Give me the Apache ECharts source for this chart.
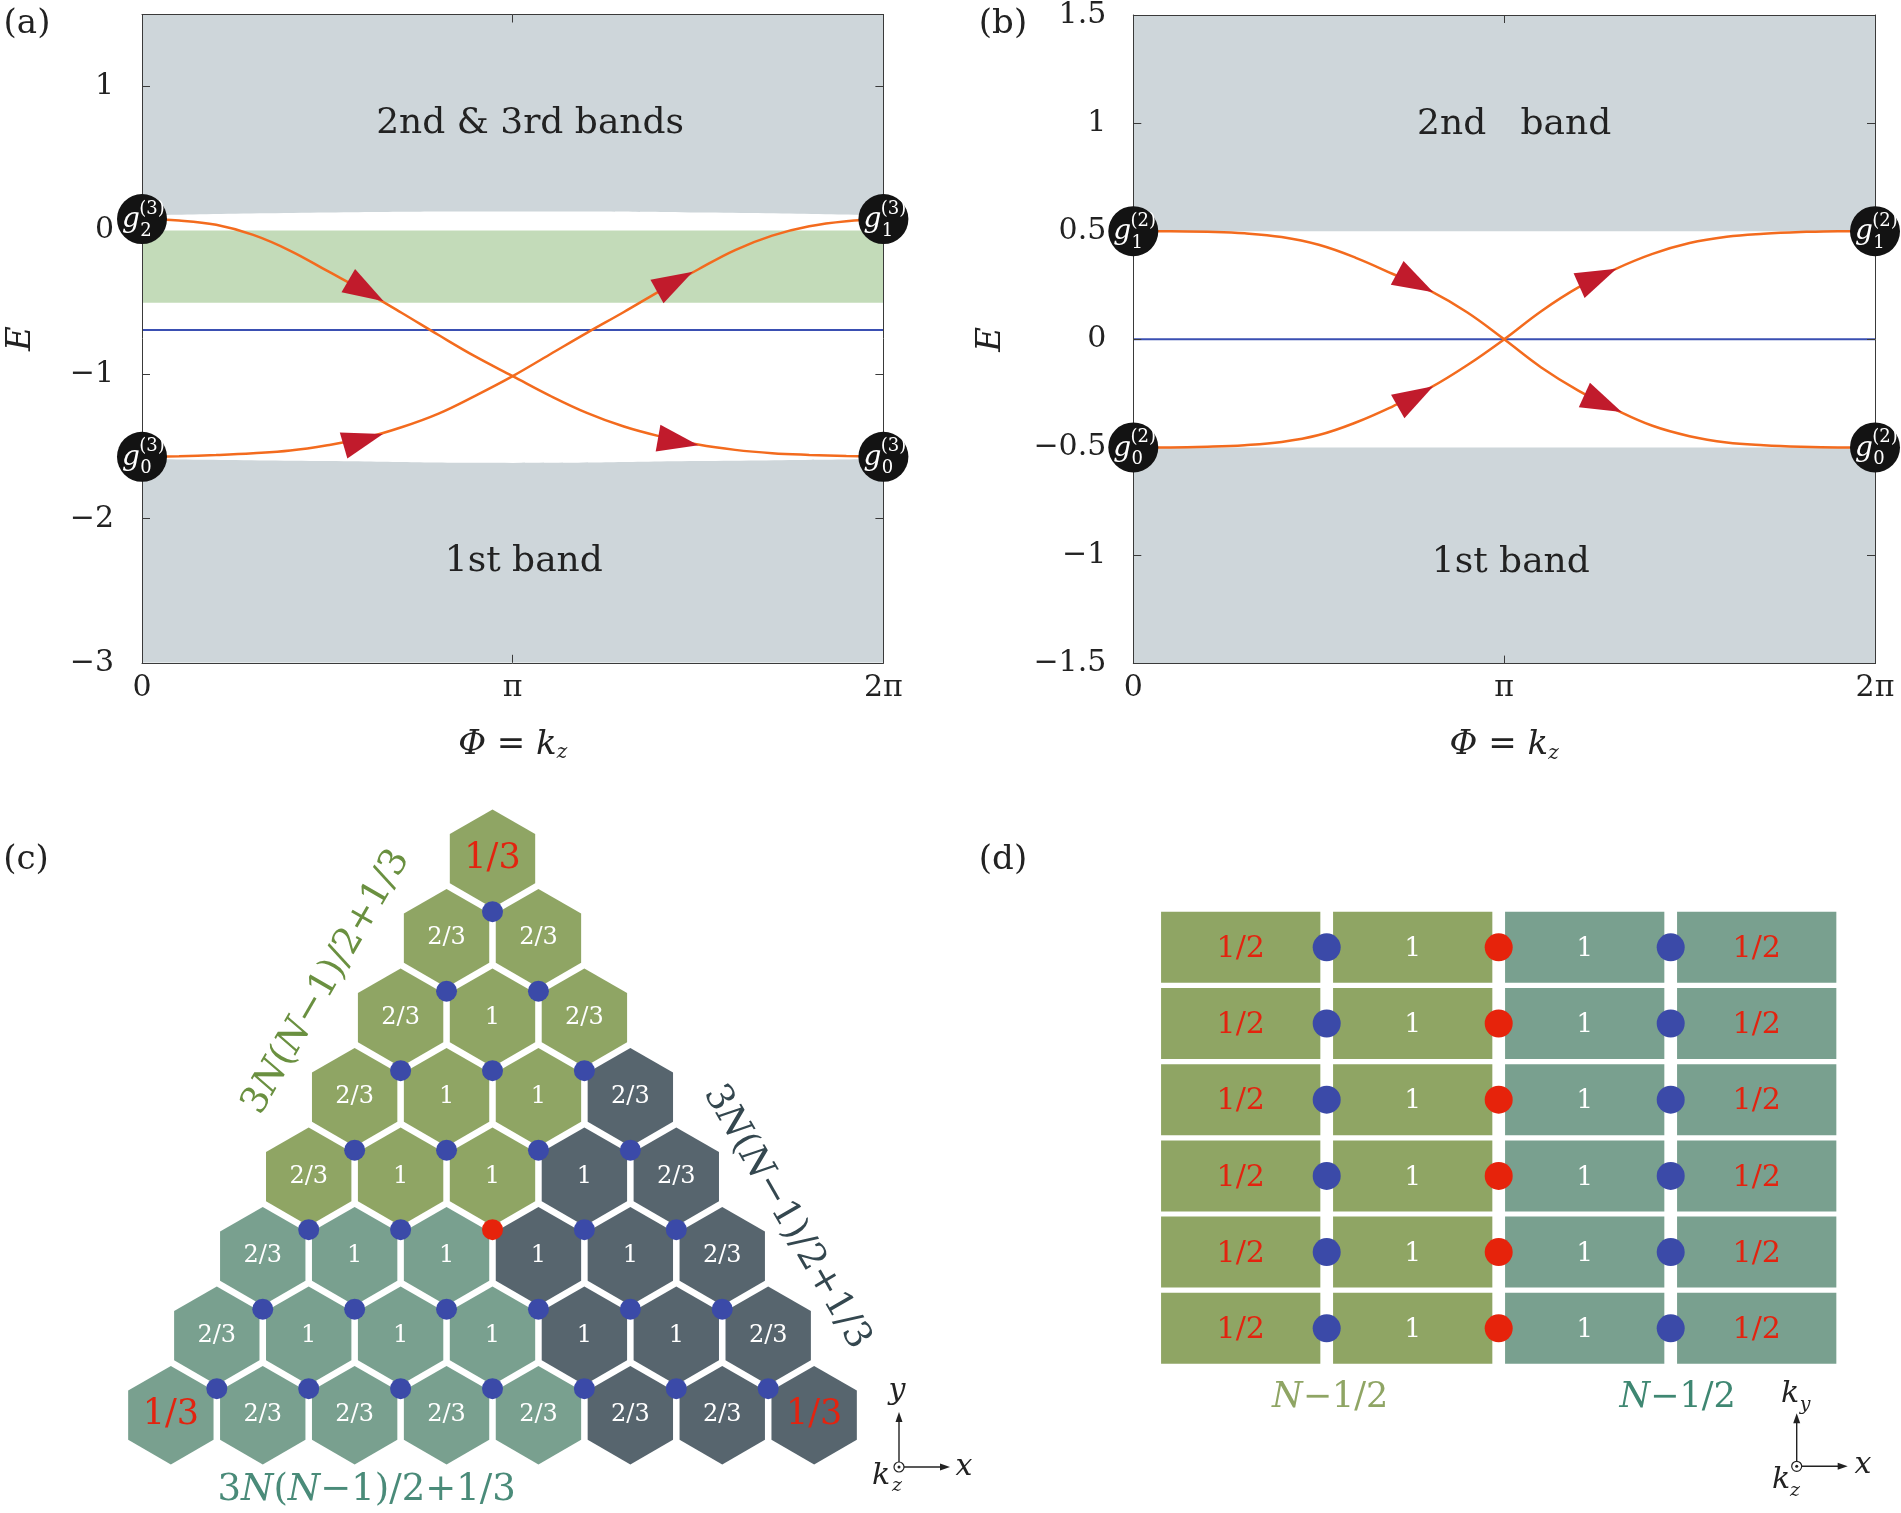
<!DOCTYPE html>
<html>
<head>
<meta charset="utf-8">
<script src="https://cdn.jsdelivr.net/npm/echarts@6/dist/echarts.min.js"></script>
<style>html,body{margin:0;padding:0;background:#fff}#main{width:1901px;height:1513px}</style>
</head>
<body>
<div id="main"></div>
<script>
// ================= DATA =================
// common phase grid (in units of pi)
const PHI = [0,0.1,0.2,0.3,0.4,0.5,0.6,0.7,0.8,0.9,1.0,1.1,1.2,1.3,1.4,1.5,1.6,1.7,1.8,1.9,2.0];
const X_TICKS = [0, 1, 2];
const X_LABELS = ['0', 'π', '2π'];

// ---- panel (a) ----
const A_DOWN = [0.08,0.07,0.04,-0.03,-0.14,-0.28,-0.42,-0.57,-0.725,-0.875,-1.01,-1.145,-1.265,-1.36,-1.43,-1.485,-1.522,-1.545,-1.557,-1.565,-1.57];
const A_UP   = [-1.57,-1.566,-1.558,-1.546,-1.527,-1.49,-1.44,-1.365,-1.27,-1.145,-1.01,-0.86,-0.71,-0.565,-0.415,-0.27,-0.135,-0.035,0.03,0.065,0.08];
const A_EDGE_PHI = [0, 0.5, 1, 1.5, 2];
const A_UPPER_EDGE = [0.105, 0.125, 0.132, 0.125, 0.105];
const A_LOWER_EDGE = [-1.585, -1.600, -1.613, -1.600, -1.585];
const A_GREEN = [-0.5, 0];
const A_FLAT = -0.69;
const A_Y_TICKS = [-3, -2, -1, 0, 1];
const A_Y_LABELS = ['−3', '−2', '−1', '0', '1'];
const A_NODE_PHI = [0, 2, 0, 2];
const A_NODE_E = [0.08, 0.08, -1.57, -1.57];
const A_NODE_SUP = ['(3)', '(3)', '(3)', '(3)'];
const A_NODE_SUB = ['2', '1', '0', '0'];
const A_ARROW_PHI = [0.652, 1.501, 0.650, 1.486];
const A_ARROW_E = [-0.49, -1.49, -1.412, -0.285];
const A_ARROW_CURVE = [0, 0, 1, 1];
const A_TEXT = ['2nd & 3rd bands', '1st band'];
const A_TEXT_PHI = [1.047, 1.03];
const A_TEXT_E = [0.74, -2.30];

// ---- panel (b) ----
const B_DOWN = [0.5,0.5,0.497,0.49,0.473,0.437,0.377,0.302,0.225,0.125,0,-0.13,-0.237,-0.325,-0.4,-0.448,-0.477,-0.49,-0.497,-0.5,-0.5];
const B_UP   = [-0.5,-0.5,-0.497,-0.49,-0.475,-0.443,-0.385,-0.31,-0.225,-0.12,0,0.13,0.24,0.325,0.395,0.445,0.474,0.488,0.496,0.5,0.5];
const B_UPPER_BAND = [0.5, 1.5];
const B_LOWER_BAND = [-1.5, -0.5];
const B_FLAT = 0;
const B_Y_TICKS = [-1.5, -1, -0.5, 0, 0.5, 1, 1.5];
const B_Y_LABELS = ['−1.5', '−1', '−0.5', '0', '0.5', '1', '1.5'];
const B_NODE_PHI = [0, 2, 0, 2];
const B_NODE_E = [0.5, 0.5, -0.5, -0.5];
const B_NODE_SUP = ['(2)', '(2)', '(2)', '(2)'];
const B_NODE_SUB = ['1', '1', '0', '0'];
const B_ARROW_PHI = [0.809, 1.317, 0.809, 1.303];
const B_ARROW_E = [0.218, -0.336, -0.217, 0.326];
const B_ARROW_CURVE = [2, 2, 3, 3];
const B_TEXT = ['2nd   band', '1st band'];
const B_TEXT_PHI = [1.027, 1.018];
const B_TEXT_E = [0.993, -1.034];

// ---- panel (c) : triangular hexagon cluster, row r has r+1 cells ----
const HEX_REGION = ['G', 'GG', 'GGG', 'GGGD', 'GGGDD', 'TTTDDD', 'TTTTDDD', 'TTTTTDDD'];
const HEX_LABEL = [
  ['1/3'],
  ['2/3', '2/3'],
  ['2/3', '1', '2/3'],
  ['2/3', '1', '1', '2/3'],
  ['2/3', '1', '1', '1', '2/3'],
  ['2/3', '1', '1', '1', '1', '2/3'],
  ['2/3', '1', '1', '1', '1', '1', '2/3'],
  ['1/3', '2/3', '2/3', '2/3', '2/3', '2/3', '2/3', '1/3']
];
// dots sit below each cell of rows 0..6 ('b' blue, 'r' red)
const HEX_DOTS = ['b', 'bb', 'bbb', 'bbbb', 'bbrbb', 'bbbbbb', 'bbbbbbb'];
const C_LABEL = '3N(N−1)/2+1/3';

// ---- panel (d) : 6 x 4 strip lattice ----
const RECT_ROWS = 6;
const RECT_REGION = ['G', 'G', 'T', 'T'];
const RECT_LABEL = ['1/2', '1', '1', '1/2'];
const RECT_DOTS = ['b', 'r', 'b'];
const D_LABEL = 'N−1/2';

// ================= STYLE =================
const FONT = '"DejaVu Serif"';
const GRAY = '#CED6DA', GREEN_BAND = '#C3DBB9', BLUE_LINE = '#3A4FB2', ORANGE = '#F36B1E', ARROW_RED = '#C11B2C';
const FILL = { G: '#8FA564', T: '#79A08F', D: '#57656E' };
const DOT = { b: '#3B4AA8', r: '#E6230B' };
const RED_TXT = '#E3230F';
const INK = '#222';
const CLEAR = 'rgba(0,0,0,0)';

function font(size, italic) { return (italic ? 'italic ' : '') + size + 'px ' + FONT; }
function tickFmt(ticks, labels) {
  return function (v) {
    const k = ticks.findIndex(t => Math.abs(t - v) < 1e-6);
    return k < 0 ? '' : labels[k];
  };
}
function interp(xs, ys, x) {
  for (let i = 0; i < xs.length - 1; i++) {
    if (x >= xs[i] && x <= xs[i + 1]) {
      const t = (x - xs[i]) / (xs[i + 1] - xs[i]);
      return ys[i] + t * (ys[i + 1] - ys[i]);
    }
  }
  return x < xs[0] ? ys[0] : ys[ys.length - 1];
}
const CURVES = [A_DOWN, A_UP, B_DOWN, B_UP];

function txtStyle(x, y, text, fnt, fill, align, valign) {
  return { x: x, y: y, text: text, font: fnt, fill: fill,
    align: align || 'center', verticalAlign: valign || 'middle',
    textAlign: align || 'center', textVerticalAlign: valign || 'middle' };
}

// ---------- axes ----------
const axisLineStyle = { color: '#3a3a3a', width: 1 };
function frameAxis(extra) {
  return Object.assign({
    type: 'value',
    axisLine: { show: true, onZero: false, lineStyle: axisLineStyle },
    axisTick: { show: true, inside: true, length: 8, lineStyle: axisLineStyle },
    splitLine: { show: false },
    axisLabel: { show: false },
    z: 4
  }, extra);
}
const labelStyle = { fontFamily: 'DejaVu Serif', fontSize: 30, color: INK };
const xName = '{i|Φ}{n| = }{i|k}{s|z}';
const xNameStyle = {
  rich: {
    i: { fontFamily: 'DejaVu Serif', fontStyle: 'italic', fontSize: 34, color: INK },
    n: { fontFamily: 'DejaVu Serif', fontSize: 34, color: INK },
    s: { fontFamily: 'DejaVu Serif', fontStyle: 'italic', fontSize: 20, color: INK, padding: [16, 0, 0, 0] }
  }
};
const yNameStyle = { fontFamily: 'DejaVu Serif', fontStyle: 'italic', fontSize: 34, color: INK };

const xAxes = [
  frameAxis({ gridIndex: 0, position: 'bottom', min: 0, max: 2, interval: 1,
    axisLabel: Object.assign({ show: true, margin: 10, formatter: tickFmt(X_TICKS, X_LABELS) }, labelStyle),
    name: xName, nameLocation: 'middle', nameGap: 64, nameTextStyle: xNameStyle }),
  frameAxis({ gridIndex: 0, position: 'top', min: 0, max: 2, interval: 1 }),
  frameAxis({ gridIndex: 1, position: 'bottom', min: 0, max: 2, interval: 1,
    axisLabel: Object.assign({ show: true, margin: 10, formatter: tickFmt(X_TICKS, X_LABELS) }, labelStyle),
    name: xName, nameLocation: 'middle', nameGap: 64, nameTextStyle: xNameStyle }),
  frameAxis({ gridIndex: 1, position: 'top', min: 0, max: 2, interval: 1 }),
  { type: 'value', gridIndex: 2, min: -4, max: 4, show: false },
  { type: 'value', gridIndex: 3, min: -0.5, max: 3.5, show: false }
];
const yAxes = [
  frameAxis({ gridIndex: 0, position: 'left', min: -3, max: 1.5, interval: 1,
    axisLabel: Object.assign({ show: true, margin: 28, formatter: tickFmt(A_Y_TICKS, A_Y_LABELS) }, labelStyle),
    name: 'E', nameLocation: 'middle', nameGap: 104, nameRotate: 90, nameTextStyle: yNameStyle }),
  frameAxis({ gridIndex: 0, position: 'right', min: -3, max: 1.5, interval: 1 }),
  frameAxis({ gridIndex: 1, position: 'left', min: -1.5, max: 1.5, interval: 0.5,
    axisLabel: Object.assign({ show: true, margin: 27, formatter: tickFmt(B_Y_TICKS, B_Y_LABELS) }, labelStyle),
    name: 'E', nameLocation: 'middle', nameGap: 125, nameRotate: 90, nameTextStyle: yNameStyle }),
  frameAxis({ gridIndex: 1, position: 'right', min: -1.5, max: 1.5, interval: 0.5 }),
  { type: 'value', gridIndex: 2, min: -1, max: 8, inverse: true, show: false },
  { type: 'value', gridIndex: 3, min: -0.5, max: 5.5, inverse: true, show: false }
];

// ---------- render helpers ----------
function nodeRender(sups, subs) {
  return function (params, api) {
    const p = api.coord([api.value(0), api.value(1)]);
    const i = params.dataIndex;
    return {
      type: 'group',
      children: [
        { type: 'circle', shape: { cx: p[0], cy: p[1], r: 25 }, style: { fill: '#131313' } },
        { type: 'text', style: txtStyle(p[0] - 11, p[1] + 1, 'g', font(28, true), '#fff') },
        { type: 'text', style: txtStyle(p[0] + 10, p[1] - 10, sups[i], font(18), '#fff') },
        { type: 'text', style: txtStyle(p[0] + 4, p[1] + 12, subs[i], font(18), '#fff') }
      ]
    };
  };
}
function arrowRender(params, api) {
  const x = api.value(0), y = api.value(1), cid = api.value(2);
  const curve = CURVES[cid];
  const tip = api.coord([x, y]);
  const p1 = api.coord([x - 0.03, interp(PHI, curve, x - 0.03)]);
  const p2 = api.coord([x + 0.03, interp(PHI, curve, x + 0.03)]);
  let dx = p2[0] - p1[0], dy = p2[1] - p1[1];
  const n = Math.hypot(dx, dy); dx /= n; dy /= n;
  const L = 41, W = 27;
  const bx = tip[0] - L * dx, by = tip[1] - L * dy;
  return {
    type: 'polygon',
    shape: { points: [tip, [bx - W / 2 * dy, by + W / 2 * dx], [bx + W / 2 * dy, by - W / 2 * dx]] },
    style: { fill: ARROW_RED }
  };
}
const HEX_SCALE = 0.929;
function hexRender(params, api) {
  const c = api.coord([api.value(0), api.value(1)]);
  const unit = api.size([1, 0])[0];
  const R = unit / Math.sqrt(3) * HEX_SCALE;
  const pts = [];
  for (let k = 0; k < 6; k++) {
    const a = (60 * k - 90) * Math.PI / 180;
    pts.push([c[0] + R * Math.cos(a), c[1] + R * Math.sin(a)]);
  }
  const r = api.value(1), i = api.value(2);
  const lab = HEX_LABEL[r][i];
  const big = lab === '1/3';
  return {
    type: 'group',
    children: [
      { type: 'polygon', shape: { points: pts }, style: { fill: FILL[HEX_REGION[r][i]] } },
      { type: 'text', style: txtStyle(c[0], c[1], lab, font(big ? 35 : 24), big ? RED_TXT : '#fff') }
    ]
  };
}
const RECT_W = 0.926, RECT_H = 0.932;
function rectRender(params, api) {
  const col = api.value(0), row = api.value(1);
  const c = api.coord([col, row]);
  const s = api.size([RECT_W, RECT_H]);
  const lab = RECT_LABEL[col];
  const half = lab === '1/2';
  return {
    type: 'group',
    children: [
      { type: 'rect', shape: { x: c[0] - s[0] / 2, y: c[1] - s[1] / 2, width: s[0], height: s[1] }, style: { fill: FILL[RECT_REGION[col]] } },
      { type: 'text', style: txtStyle(c[0], c[1] + 2, lab, font(half ? 30 : 26), half ? RED_TXT : '#fff') }
    ]
  };
}

// ---------- build data ----------
const hexData = [];
HEX_LABEL.forEach((row, r) => row.forEach((lab, i) => hexData.push([i - r / 2, r, i])));
const hexDotData = [];
HEX_DOTS.forEach((row, r) => row.split('').forEach((k, i) =>
  hexDotData.push({ value: [i - r / 2, r + 2 / 3], itemStyle: { color: DOT[k], opacity: 1 } })));
const rectData = [];
for (let row = 0; row < RECT_ROWS; row++) for (let col = 0; col < RECT_REGION.length; col++) rectData.push([col, row]);
const rectDotData = [];
for (let row = 0; row < RECT_ROWS; row++) RECT_DOTS.forEach((k, j) =>
  rectDotData.push({ value: [j + 0.5, row], itemStyle: { color: DOT[k], opacity: 1 } }));

function zip2(xs, ys) { return xs.map((x, i) => [x, ys[i]]); }
function mathRich(color, size) {
  return {
    n: { fontFamily: 'DejaVu Serif', fontSize: size, color: color },
    i: { fontFamily: 'DejaVu Serif', fontStyle: 'italic', fontSize: size, color: color }
  };
}
function mathText(s) {
  // italicise N
  return s.split('N').map(p => p ? '{n|' + p + '}' : '').join('{i|N}');
}
function textLabel(value, text, opts) {
  return {
    value: value, name: text,
    label: Object.assign({ show: true, position: 'inside', formatter: text, opacity: 1 }, opts)
  };
}
const hiddenSym = { symbolSize: 1, itemStyle: { color: CLEAR, opacity: 1 }, clip: false };

const series = [
  // ----- (a) -----
  { type: 'line', xAxisIndex: 0, yAxisIndex: 0, data: zip2(A_EDGE_PHI, A_UPPER_EDGE), smooth: true, symbol: 'none',
    lineStyle: { width: 0, opacity: 0 }, areaStyle: { color: GRAY, opacity: 1, origin: 'end' }, z: 1, silent: true },
  { type: 'line', xAxisIndex: 0, yAxisIndex: 0, data: zip2(A_EDGE_PHI, A_LOWER_EDGE), smooth: true, symbol: 'none',
    lineStyle: { width: 0, opacity: 0 }, areaStyle: { color: GRAY, opacity: 1, origin: 'start' }, z: 1, silent: true },
  { type: 'line', xAxisIndex: 0, yAxisIndex: 0, data: [[0, A_FLAT], [2, A_FLAT]], symbol: 'none',
    lineStyle: { color: BLUE_LINE, width: 2 }, z: 2, silent: true,
    markArea: { silent: true, itemStyle: { color: GREEN_BAND, opacity: 1 }, data: [[{ yAxis: A_GREEN[0] }, { yAxis: A_GREEN[1] }]] } },
  { type: 'line', xAxisIndex: 0, yAxisIndex: 0, data: zip2(PHI, A_DOWN), smooth: 0.4, symbol: 'none',
    lineStyle: { color: ORANGE, width: 2.5 }, z: 3, silent: true },
  { type: 'line', xAxisIndex: 0, yAxisIndex: 0, data: zip2(PHI, A_UP), smooth: 0.4, symbol: 'none',
    lineStyle: { color: ORANGE, width: 2.5 }, z: 3, silent: true },
  { type: 'custom', xAxisIndex: 0, yAxisIndex: 0, clip: false, z: 5, silent: true, encode: { x: 0, y: 1 },
    data: A_ARROW_PHI.map((p, i) => [p, A_ARROW_E[i], A_ARROW_CURVE[i]]), renderItem: arrowRender },
  { type: 'custom', xAxisIndex: 0, yAxisIndex: 0, clip: false, z: 10, silent: true, encode: { x: 0, y: 1 },
    data: zip2(A_NODE_PHI, A_NODE_E), renderItem: nodeRender(A_NODE_SUP, A_NODE_SUB) },
  Object.assign({ type: 'scatter', xAxisIndex: 0, yAxisIndex: 0, z: 6, silent: true,
    data: A_TEXT.map((t, i) => textLabel([A_TEXT_PHI[i], A_TEXT_E[i]], t, { fontFamily: 'DejaVu Serif', fontSize: 36, color: INK })) }, hiddenSym),

  // ----- (b) -----
  { type: 'line', xAxisIndex: 2, yAxisIndex: 2, data: [[0, B_FLAT], [2, B_FLAT]], symbol: 'none',
    lineStyle: { color: BLUE_LINE, width: 2 }, z: 2, silent: true,
    markArea: { silent: true, itemStyle: { color: GRAY, opacity: 1 },
      data: [[{ yAxis: B_UPPER_BAND[0] }, { yAxis: B_UPPER_BAND[1] }], [{ yAxis: B_LOWER_BAND[0] }, { yAxis: B_LOWER_BAND[1] }]] } },
  { type: 'line', xAxisIndex: 2, yAxisIndex: 2, data: zip2(PHI, B_DOWN), smooth: 0.4, symbol: 'none',
    lineStyle: { color: ORANGE, width: 2.5 }, z: 3, silent: true },
  { type: 'line', xAxisIndex: 2, yAxisIndex: 2, data: zip2(PHI, B_UP), smooth: 0.4, symbol: 'none',
    lineStyle: { color: ORANGE, width: 2.5 }, z: 3, silent: true },
  { type: 'custom', xAxisIndex: 2, yAxisIndex: 2, clip: false, z: 5, silent: true, encode: { x: 0, y: 1 },
    data: B_ARROW_PHI.map((p, i) => [p, B_ARROW_E[i], B_ARROW_CURVE[i]]), renderItem: arrowRender },
  { type: 'custom', xAxisIndex: 2, yAxisIndex: 2, clip: false, z: 10, silent: true, encode: { x: 0, y: 1 },
    data: zip2(B_NODE_PHI, B_NODE_E), renderItem: nodeRender(B_NODE_SUP, B_NODE_SUB) },
  Object.assign({ type: 'scatter', xAxisIndex: 2, yAxisIndex: 2, z: 6, silent: true,
    data: B_TEXT.map((t, i) => textLabel([B_TEXT_PHI[i], B_TEXT_E[i]], t, { fontFamily: 'DejaVu Serif', fontSize: 36, color: INK })) }, hiddenSym),

  // ----- (c) -----
  { type: 'custom', xAxisIndex: 4, yAxisIndex: 4, clip: false, z: 2, silent: true, encode: { x: 0, y: 1 },
    data: hexData, renderItem: hexRender },
  { type: 'scatter', xAxisIndex: 4, yAxisIndex: 4, symbolSize: 21, z: 4, silent: true, clip: false, itemStyle: { opacity: 1 }, data: hexDotData },
  Object.assign({ type: 'scatter', xAxisIndex: 4, yAxisIndex: 4, z: 5, silent: true,
    data: [
      textLabel([-1.806, 1.55], mathText(C_LABEL), { rotate: 60, rich: mathRich('#6A9040', 37) }),
      textLabel([3.2, 4.51], mathText(C_LABEL), { rotate: -60, rich: mathRich('#34474F', 37) }),
      textLabel([-1.37, 7.95], mathText(C_LABEL), { rich: mathRich('#4A8B79', 37) })
    ] }, hiddenSym),

  // ----- (d) -----
  { type: 'custom', xAxisIndex: 5, yAxisIndex: 5, clip: false, z: 2, silent: true, encode: { x: 0, y: 1 },
    data: rectData, renderItem: rectRender },
  { type: 'scatter', xAxisIndex: 5, yAxisIndex: 5, symbolSize: 28, z: 4, silent: true, clip: false, itemStyle: { opacity: 1 }, data: rectDotData },
  Object.assign({ type: 'scatter', xAxisIndex: 5, yAxisIndex: 5, z: 5, silent: true,
    data: [
      textLabel([0.52, 5.91], mathText(D_LABEL), { rich: mathRich('#8FA564', 35) }),
      textLabel([2.54, 5.91], mathText(D_LABEL), { rich: mathRich('#3F8772', 35) })
    ] }, hiddenSym)
];

// ---------- decorations: panel tags and small coordinate glyphs ----------
function gText(x, y, text, size, italic) {
  return { type: 'text', z: 20, style: txtStyle(x, y, text, font(size, italic), INK) };
}
function glyph(ox, oy, up, right) {
  const s = { stroke: '#222', lineWidth: 1.4 };
  return [
    { type: 'line', z: 20, shape: { x1: ox, y1: oy - 5, x2: ox, y2: oy - up + 8 }, style: s },
    { type: 'polygon', z: 20, shape: { points: [[ox, oy - up], [ox - 3.5, oy - up + 10], [ox + 3.5, oy - up + 10]] }, style: { fill: '#222' } },
    { type: 'line', z: 20, shape: { x1: ox + 5, y1: oy, x2: ox + right - 8, y2: oy }, style: s },
    { type: 'polygon', z: 20, shape: { points: [[ox + right, oy], [ox + right - 10, oy - 3.5], [ox + right - 10, oy + 3.5]] }, style: { fill: '#222' } },
    { type: 'circle', z: 20, shape: { cx: ox, cy: oy, r: 5 }, style: { fill: '#fff', stroke: '#222', lineWidth: 1.2 } },
    { type: 'circle', z: 21, shape: { cx: ox, cy: oy, r: 1.5 }, style: { fill: '#222' } }
  ];
}
const graphic = [
  gText(27, 24, '(a)', 34), gText(1003, 24, '(b)', 34),
  gText(26, 860, '(c)', 34), gText(1003, 860, '(d)', 34)
].concat(glyph(899, 1467, 55, 51), [
  gText(897, 1391, 'y', 30, true), gText(964, 1467, 'x', 30, true),
  gText(881, 1476, 'k', 30, true), gText(897, 1486, 'z', 19, true)
]).concat(glyph(1796.7, 1466.3, 53, 51), [
  gText(1790, 1394, 'k', 30, true), gText(1805, 1405, 'y', 19, true),
  gText(1863, 1465, 'x', 30, true),
  gText(1781, 1480, 'k', 30, true), gText(1795, 1491, 'z', 19, true)
]);

const option = {
  animation: false,
  backgroundColor: '#ffffff',
  grid: [
    { left: 142, top: 14.5, width: 741.4, height: 648.3 },
    { left: 1133.3, top: 14.3, width: 741.7, height: 649.3 },
    { left: 124.9, top: 779.2, width: 735.2, height: 715.5 },
    { left: 1154.7, top: 909.2, width: 688, height: 457.2 }
  ],
  xAxis: xAxes,
  yAxis: yAxes,
  series: series,
  graphic: graphic
};

const chart = echarts.init(document.getElementById('main'), null, { renderer: 'canvas', width: 1901, height: 1513 });
chart.setOption(option);
</script>
</body>
</html>
